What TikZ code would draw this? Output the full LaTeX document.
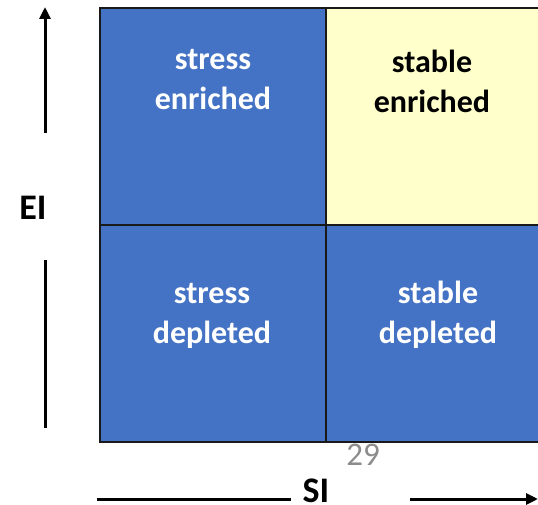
\documentclass[tikz,border=0pt]{standalone}
\usepackage{fontspec}
\setmainfont{Carlito}
\usetikzlibrary{arrows.meta}

\definecolor{cellblue}{HTML}{4472C4}
\definecolor{cellyellow}{HTML}{FFFFCC}
\definecolor{pagegray}{HTML}{8C8C8C}

\tikzset{
  cell/.style={draw=black!90, line width=1.6pt, rectangle, inner sep=0pt,
               minimum width=226pt, minimum height=217pt, anchor=north west},
  celltext/.style={font=\fontsize{32}{40}\selectfont\bfseries, align=center,
                   inner sep=0pt, anchor=base},
  axistext/.style={font=\fontsize{36}{40}\selectfont\bfseries, inner sep=0pt,
                   text depth=0pt, anchor=base},
  axisline/.style={line width=3pt, black},
  axisarrow/.style={axisline, -{Triangle[width=11pt,length=12pt]}},
}

\begin{document}
\begin{tikzpicture}[x=1pt, y=-1pt]
  \clip (0,0) rectangle (538,505);
  \fill[white] (0,0) rectangle (538,505);

  % quadrant cells
  \node[cell, fill=cellblue]   (se) at (99,7)    {};
  \node[cell, fill=cellyellow] (te) at (325,7)   {};
  \node[cell, fill=cellblue]   (sd) at (99,224)  {};
  \node[cell, fill=cellblue]   (td) at (325,224) {};

  % quadrant labels (anchored on the baseline of the second line)
  \node[celltext, text=white] (seText) at (213,110) {stress\\enriched};
  \node[celltext, text=black] (teText) at (432,113) {stable\\enriched};
  \node[celltext, text=white] (sdText) at (212,343) {stress\\depleted};
  \node[celltext, text=white] (tdText) at (438,343) {stable\\depleted};

  % vertical axis
  \node[axistext] (ei) at (33,219) {EI};
  \coordinate (eiTop)  at (45,7);
  \coordinate (eiUpLow) at (45,133);
  \coordinate (eiLowTop) at (45,260);
  \coordinate (eiBottom) at (45,428);
  \draw[axisarrow] (eiUpLow) -- (eiTop);
  \draw[axisline] (eiLowTop) -- (eiBottom);

  % horizontal axis
  \node[axistext] (si) at (316,502) {SI};
  \coordinate (siLeft)  at (97,499);
  \coordinate (siLeftEnd) at (291,499);
  \coordinate (siRightStart) at (410,499);
  \coordinate (siRight) at (538,499);
  \draw[axisline] (siLeft) -- (siLeftEnd);
  \draw[axisarrow] (siRightStart) -- (siRight);

  % page number
  \node[font=\fontsize{33}{36}\selectfont, text=pagegray, inner sep=0pt, anchor=base]
    (pageNo) at (363,465) {29};
\end{tikzpicture}
\end{document}
